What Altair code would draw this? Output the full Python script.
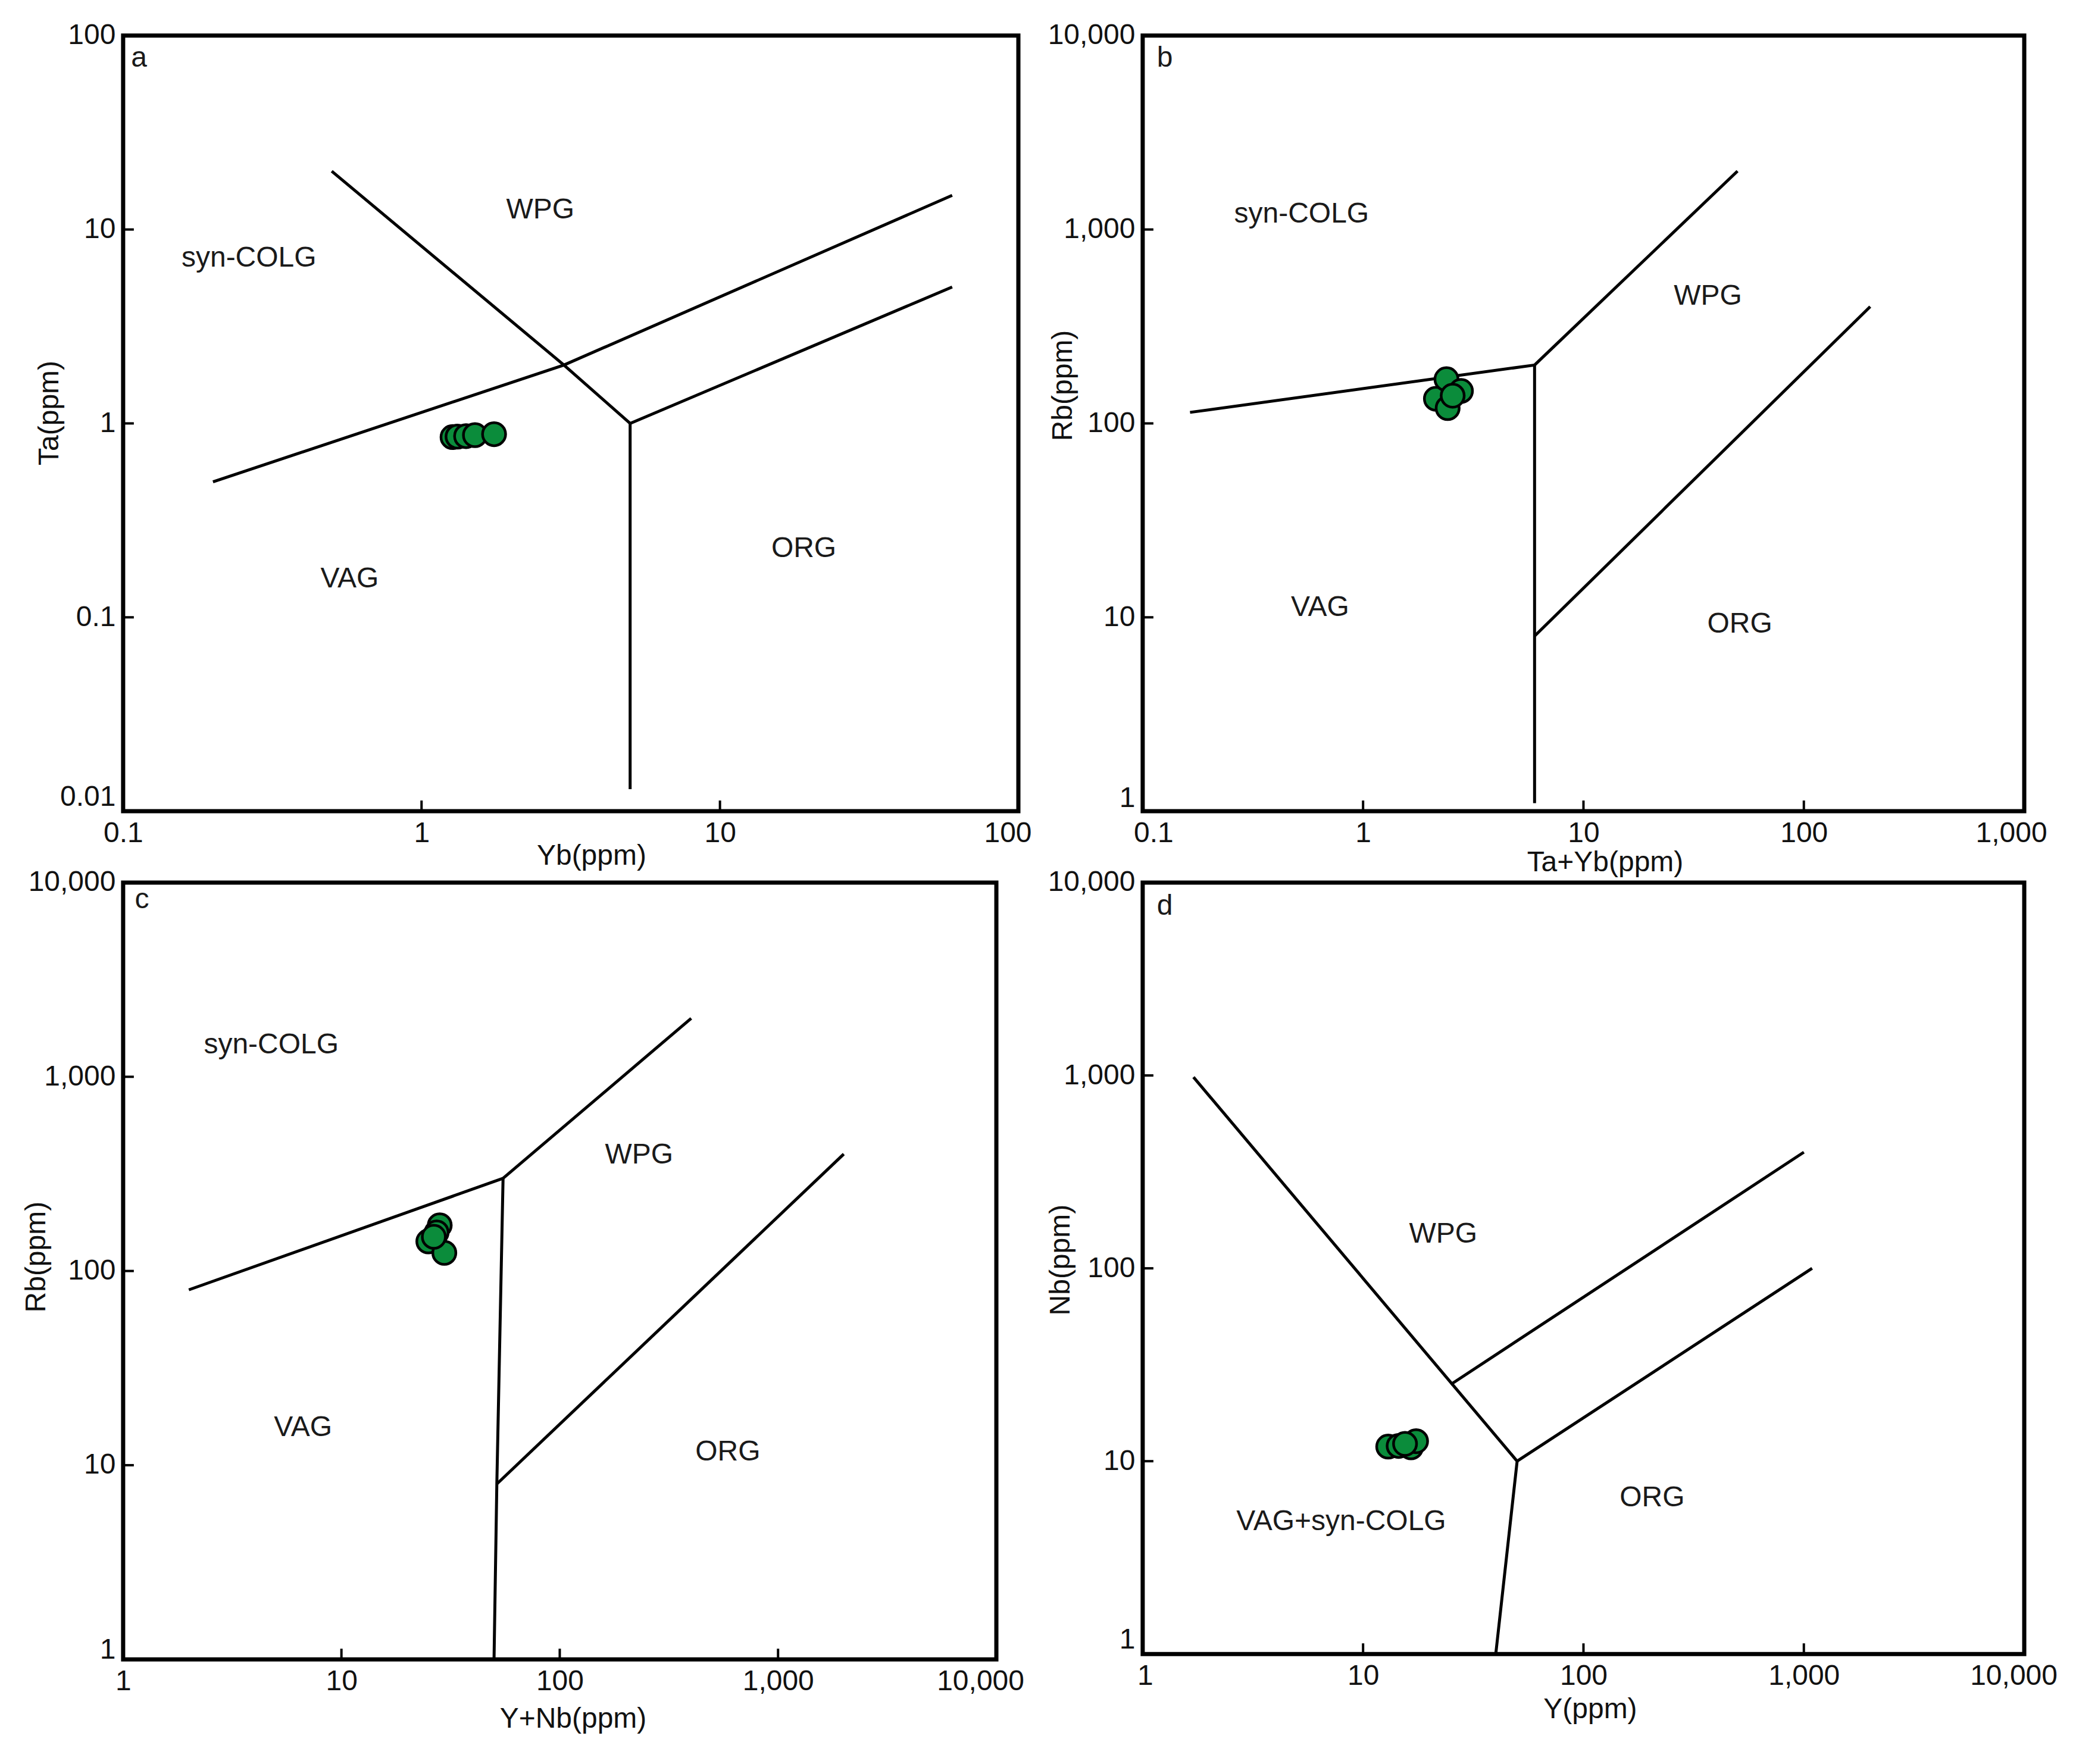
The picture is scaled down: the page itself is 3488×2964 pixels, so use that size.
import altair as alt
import pandas as pd

FONT = "Liberation Sans"
FS = 48
GREEN = "#0b8c3b"

# ---------------- Panel a : Ta vs Yb ----------------
a_seg = [0, 0, 0, 1, 1, 1, 2, 2, 3, 3]
a_lx = [0.2, 3, 60, 0.5, 3, 5, 5, 5, 5, 60]
a_ly = [0.5, 2, 15, 20, 2, 1, 1, 0.013, 1, 5.05]
a_px = [1.27, 1.32, 1.41, 1.51, 1.75]
a_py = [0.85, 0.855, 0.86, 0.87, 0.88]
a_text = ["WPG", "syn-COLG", "VAG", "ORG", "a"]
a_tx = [2.5, 0.264, 0.574, 19.1, 0.113]
a_ty = [12.6, 7.1, 0.157, 0.225, 76.6]
a_xticks = [0.1, 1, 10, 100]
a_yticks = [0.01, 0.1, 1, 10, 100]

# ---------------- Panel b : Rb vs Ta+Yb ----------------
b_seg = [0, 0, 1, 1, 2, 2, 3, 3]
b_lx = [0.164, 6, 6, 50, 6, 6, 6, 200]
b_ly = [114, 200, 200, 2000, 200, 1.1, 8, 400]
b_px = [2.14, 2.39, 2.78, 2.42, 2.55]
b_py = [134, 169, 147, 120, 139]
b_text = ["syn-COLG", "WPG", "VAG", "ORG", "b"]
b_tx = [0.526, 36.7, 0.638, 51.2, 0.126]
b_ty = [1198, 452, 11.2, 9.2, 7650]
b_xticks = [0.1, 1, 10, 100, 1000]
b_yticks = [1, 10, 100, 1000, 10000]

# ---------------- Panel c : Rb vs Y+Nb ----------------
c_seg = [0, 0, 1, 1, 2, 2, 2, 3, 3]
c_lx = [2, 55, 55, 400, 55, 51.5, 50, 51.5, 2000]
c_ly = [80, 300, 300, 2000, 300, 8, 1, 8, 400]
c_px = [28.2, 25.0, 29.6, 27.3, 26.5]
c_py = [172, 142, 124, 158, 150]
c_text = ["syn-COLG", "WPG", "VAG", "ORG", "c"]
c_tx = [4.77, 231, 6.67, 589, 1.22]
c_ty = [1452, 395, 15.6, 11.7, 8150]
c_xticks = [1, 10, 100, 1000, 10000]
c_yticks = [1, 10, 100, 1000, 10000]

# ---------------- Panel d : Nb vs Y ----------------
d_seg = [0, 0, 0, 1, 1, 2, 2]
d_lx = [1.7, 50, 40, 25, 1000, 50, 1090]
d_ly = [980, 10, 1, 25, 400, 10, 100]
d_px = [13.0, 14.5, 16.5, 17.4, 15.5]
d_py = [11.9, 12.0, 11.8, 12.7, 12.3]
d_text = ["WPG", "VAG+syn-COLG", "ORG", "d"]
d_tx = [23.1, 7.96, 205, 1.26]
d_ty = [150, 4.85, 6.45, 7530]
d_xticks = [1, 10, 100, 1000, 10000]
d_yticks = [1, 10, 100, 1000, 10000]


def edge_offset(vals, first, last):
    # shift the first / last tick label slightly inwards, as in the reference
    return {"condition": [{"test": f"datum.value == {vals[0]}", "value": first},
                          {"test": f"datum.value == {vals[-1]}", "value": last}],
            "value": 0}


def panel(seg, lx, ly, px, py, text, tx, ty, xticks, yticks,
          xtitle, ytitle, w, h, xtpos, ytpos, xoff, yoff):
    lines = pd.DataFrame({"seg": seg, "x": lx, "y": ly,
                          "ord": list(range(len(lx)))})
    pts = pd.DataFrame({"x": px, "y": py})
    labs = pd.DataFrame({"x": tx, "y": ty, "t": text})
    xt = pd.DataFrame({"x": xticks[1:-1]})
    yt = pd.DataFrame({"y": yticks[1:-1]})

    common = dict(ticks=False, tickSize=0, domain=False, grid=False,
                  labelFlush=False, labelOverlap=False, labelPadding=13,
                  labelFont=FONT, labelFontSize=FS, labelColor="#111111",
                  titleFont=FONT, titleFontSize=FS, titleFontWeight="normal",
                  titleColor="#111111", titleBaseline="middle",
                  titleAlign="center", format=",")
    xaxis = alt.Axis(values=xticks, title=xtitle,
                     labelOffset=edge_offset(xticks, xoff[0], xoff[1]),
                     titleX=xtpos[0], titleY=xtpos[1], **common)
    yaxis = alt.Axis(values=yticks, title=ytitle, titleAngle=270,
                     labelOffset=edge_offset(yticks, yoff[0], yoff[1]),
                     titleX=ytpos[0], titleY=ytpos[1], **common)
    X = alt.X("x:Q", scale=alt.Scale(type="log", domain=[xticks[0], xticks[-1]],
                                     nice=False), axis=xaxis)
    Y = alt.Y("y:Q", scale=alt.Scale(type="log", domain=[yticks[0], yticks[-1]],
                                     nice=False), axis=yaxis)

    line_layer = alt.Chart(lines).mark_line(color="black", strokeWidth=5).encode(
        x=X, y=Y, detail="seg:N", order="ord:Q")
    xtick_layer = alt.Chart(xt).mark_rule(color="black", strokeWidth=4).encode(
        x=X, y=alt.value(h), y2=alt.value(h - 18))
    ytick_layer = alt.Chart(yt).mark_rule(color="black", strokeWidth=4).encode(
        y=Y, x=alt.value(0), x2=alt.value(18))
    pt_layer = alt.Chart(pts).mark_circle(
        size=1500, fill=GREEN, stroke="black", strokeWidth=4.5, opacity=1
    ).encode(x=X, y=Y)
    txt_layer = alt.Chart(labs).mark_text(
        font=FONT, fontSize=FS, color="#1a1a1a", align="center", baseline="middle"
    ).encode(x=X, y=Y, text="t:N")
    return alt.layer(line_layer, xtick_layer, ytick_layer, pt_layer, txt_layer
                     ).properties(width=w, height=h)


pa = panel(a_seg, a_lx, a_ly, a_px, a_py, a_text, a_tx, a_ty, a_xticks, a_yticks,
           "Yb(ppm)", "Ta(ppm)", 1505, 1304, (787, 75), (-123, 634),
           (0, -18), (-24, 0))
pb = panel(b_seg, b_lx, b_ly, b_px, b_py, b_text, b_tx, b_ty, b_xticks, b_yticks,
           "Ta+Yb(ppm)", "Rb(ppm)", 1482, 1304, (777, 86), (-133, 588),
           (18, -22), (-22, 0))
pc = panel(c_seg, c_lx, c_ly, c_px, c_py, c_text, c_tx, c_ty, c_xticks, c_yticks,
           "Y+Nb(ppm)", "Rb(ppm)", 1468, 1306, (756, 100), (-145, 629),
           (0, -27), (-16, 0))
pd_ = panel(d_seg, d_lx, d_ly, d_px, d_py, d_text, d_tx, d_ty, d_xticks, d_yticks,
            "Y(ppm)", "Nb(ppm)", 1482, 1297, (752, 93), (-137, 634),
            (4, -18), (-24, 0))

chart = alt.concat(pa, pb, pc, pd_, columns=2, bounds="flush",
                   spacing={"row": 120, "column": 209}).properties(
    padding={"left": 26, "top": 23, "right": 20, "bottom": 20},
    background="white",
).configure_view(stroke="black", strokeWidth=7, fill="white")

chart.save("out.html", embed_options={"renderer": "svg", "actions": False})
